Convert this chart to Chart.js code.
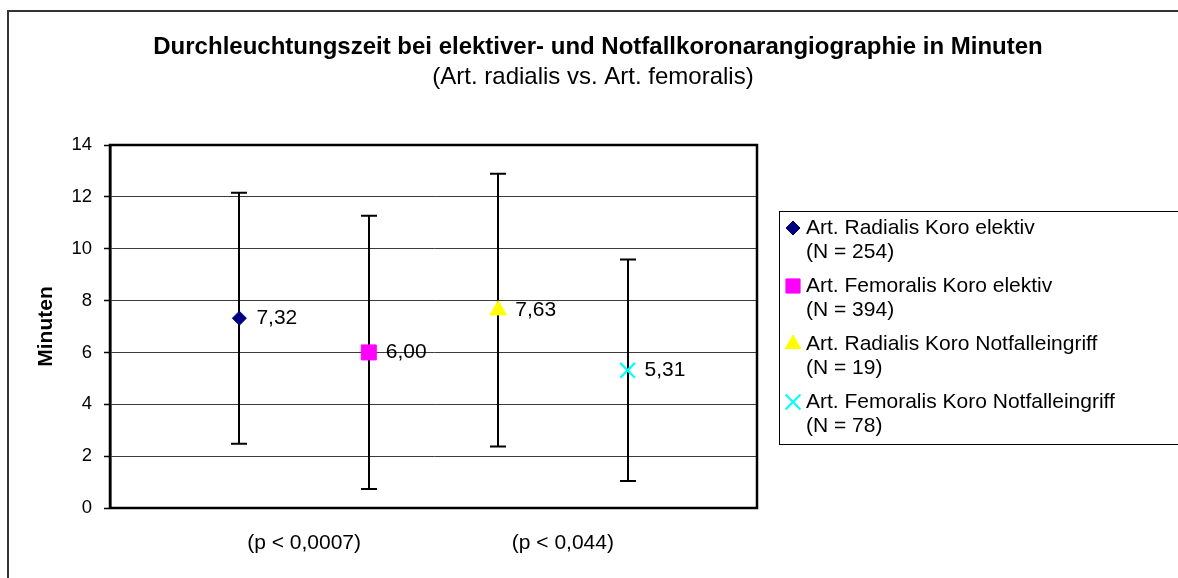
<!DOCTYPE html>
<html>
<head>
<meta charset="utf-8">
<script src="https://cdn.jsdelivr.net/npm/chart.js@4/dist/chart.umd.min.js"></script>
<style>
html,body{margin:0;padding:0;background:#fff;}
#wrap{width:1178px;height:578px;position:relative;}
</style>
</head>
<body>
<div id="wrap"><canvas id="c" width="1178" height="578"></canvas></div>
<script>
const titleText = "Durchleuchtungszeit bei elektiver- und Notfallkoronarangiographie in Minuten";
const subtitleText = "(Art. radialis vs. Art. femoralis)";
const yAxisTitle = "Minuten";
const seriesNames = [["Art. Radialis Koro elektiv", "(N = 254)"], ["Art. Femoralis Koro elektiv", "(N = 394)"], ["Art. Radialis Koro Notfalleingriff", "(N = 19)"], ["Art. Femoralis Koro Notfalleingriff", "(N = 78)"]];
const xPositions = [1, 2, 3, 4];
const meanValues = [7.32, 6.00, 7.63, 5.31];
const sdValues = [4.84, 5.27, 5.26, 4.27];
const valueLabels = ["7,32", "6,00", "7,63", "5,31"];
const groupLabels = ["(p < 0,0007)", "(p < 0,044)"];
const groupPositions = [1.5, 3.5];
const yTicks = [0, 2, 4, 6, 8, 10, 12, 14];

const pointStyles = ['rectRot', 'rect', 'triangle', 'crossRot'];
const pointColors = ['#000080', '#FF00FF', '#FFFF00', '#00FFFF'];
const pointRadii = [7, 10.6, 9.5, 10.5];
const legendRadii = [7, 10, 9, 10.5];

const FONT = "'Liberation Sans', Arial, sans-serif";

const datasets = meanValues.map((v, i) => ({
  label: seriesNames[i].join(' '),
  data: [{x: xPositions[i], y: v}],
  pointStyle: pointStyles[i],
  pointRadius: pointRadii[i],
  pointHoverRadius: pointRadii[i],
  backgroundColor: pointColors[i],
  borderColor: pointColors[i],
  pointBorderWidth: i === 3 ? 2.2 : 1,
  showLine: false
}));

const decorPlugin = {
  id: 'decor',
  beforeDraw(chart) {
    const ctx = chart.ctx;
    ctx.save();
    ctx.fillStyle = '#fff';
    ctx.fillRect(0, 0, chart.width, chart.height);
    ctx.strokeStyle = '#333';
    ctx.lineWidth = 2;
    ctx.beginPath();
    ctx.moveTo(8, 580);
    ctx.lineTo(8, 11);
    ctx.lineTo(1180, 11);
    ctx.stroke();
    ctx.fillStyle = '#000';
    ctx.textAlign = 'center';
    ctx.textBaseline = 'alphabetic';
    ctx.font = "bold 24px " + FONT;
    ctx.fillText(titleText, 598, 54);
    ctx.font = "24px " + FONT;
    ctx.fillText(subtitleText, 593, 84);
    ctx.restore();
  },
  beforeDatasetsDraw(chart) {
    const ctx = chart.ctx;
    const a = chart.chartArea;
    const xs = chart.scales.x, ys = chart.scales.y;
    ctx.save();
    ctx.strokeStyle = '#000';
    ctx.lineWidth = 2.5;
    ctx.strokeRect(a.left, a.top, a.right - a.left, a.bottom - a.top);
    ctx.lineWidth = 2;
    meanValues.forEach((m, i) => {
      const px = Math.round(xs.getPixelForValue(xPositions[i]));
      const top = ys.getPixelForValue(m + sdValues[i]);
      const bot = ys.getPixelForValue(m - sdValues[i]);
      ctx.beginPath();
      ctx.moveTo(px, top); ctx.lineTo(px, bot);
      ctx.moveTo(px - 8, top); ctx.lineTo(px + 8, top);
      ctx.moveTo(px - 8, bot); ctx.lineTo(px + 8, bot);
      ctx.stroke();
    });
    ctx.restore();
  },
  afterDatasetsDraw(chart) {
    const ctx = chart.ctx;
    const xs = chart.scales.x, ys = chart.scales.y;
    ctx.save();
    ctx.fillStyle = '#000';
    ctx.font = "21px " + FONT;
    ctx.textAlign = 'left';
    ctx.textBaseline = 'middle';
    meanValues.forEach((m, i) => {
      const px = xs.getPixelForValue(xPositions[i]);
      const py = ys.getPixelForValue(m);
      ctx.fillText(valueLabels[i], px + 17, py);
    });
    const lx = 779, ly = 211, lb = 444;
    ctx.strokeStyle = '#000';
    ctx.lineWidth = 1;
    ctx.strokeRect(lx + 0.5, ly + 0.5, 1180 - lx, lb - ly);
    seriesNames.forEach((lines, i) => {
      const y1 = 228 + i * 58;
      ctx.save();
      ctx.fillStyle = pointColors[i];
      ctx.strokeStyle = pointColors[i];
      ctx.lineWidth = i === 3 ? 2 : 1;
      Chart.helpers.drawPoint(ctx, {
        pointStyle: pointStyles[i],
        radius: legendRadii[i],
        borderWidth: i === 3 ? 2 : 1
      }, 793, y1);
      ctx.restore();
      ctx.fillStyle = '#000';
      ctx.fillText(lines[0], 806, y1);
      ctx.fillText(lines[1], 806, y1 + 24.7);
    });
    ctx.restore();
  }
};

new Chart(document.getElementById('c'), {
  type: 'scatter',
  data: { datasets },
  options: {
    responsive: false,
    animation: false,
    devicePixelRatio: 1,
    layout: { padding: { left: 0, top: 145, right: 421, bottom: 0 } },
    plugins: {
      legend: { display: false },
      title: { display: false },
      tooltip: { enabled: false }
    },
    scales: {
      x: {
        type: 'linear',
        min: 0, max: 5,
        afterFit(scale) { scale.height = 70; },
        afterBuildTicks(scale) { scale.ticks = groupPositions.map(v => ({ value: v })); },
        ticks: {
          autoSkip: false,
          maxRotation: 0,
          padding: 23,
          color: '#000',
          font: { family: FONT, size: 21 },
          callback: (v, idx) => groupLabels[idx]
        },
        grid: { display: false, drawTicks: false },
        border: { display: false }
      },
      y: {
        min: 0, max: 14,
        afterFit(scale) { scale.width = 110; },
        afterBuildTicks(scale) { scale.ticks = yTicks.map(v => ({ value: v })); },
        ticks: {
          padding: 12,
          color: '#000',
          font: { family: FONT, size: 18.5 }
        },
        grid: { color: '#3a3a3a', lineWidth: 1, tickLength: 6, tickColor: '#000', tickWidth: 1.5 },
        border: { display: true, color: '#000', width: 2.5 },
        title: {
          display: true,
          text: yAxisTitle,
          color: '#000',
          font: { family: FONT, size: 21, weight: 'bold' },
          padding: { top: 34, bottom: 0 }
        }
      }
    }
  },
  plugins: [decorPlugin]
});
</script>
</body>
</html>
